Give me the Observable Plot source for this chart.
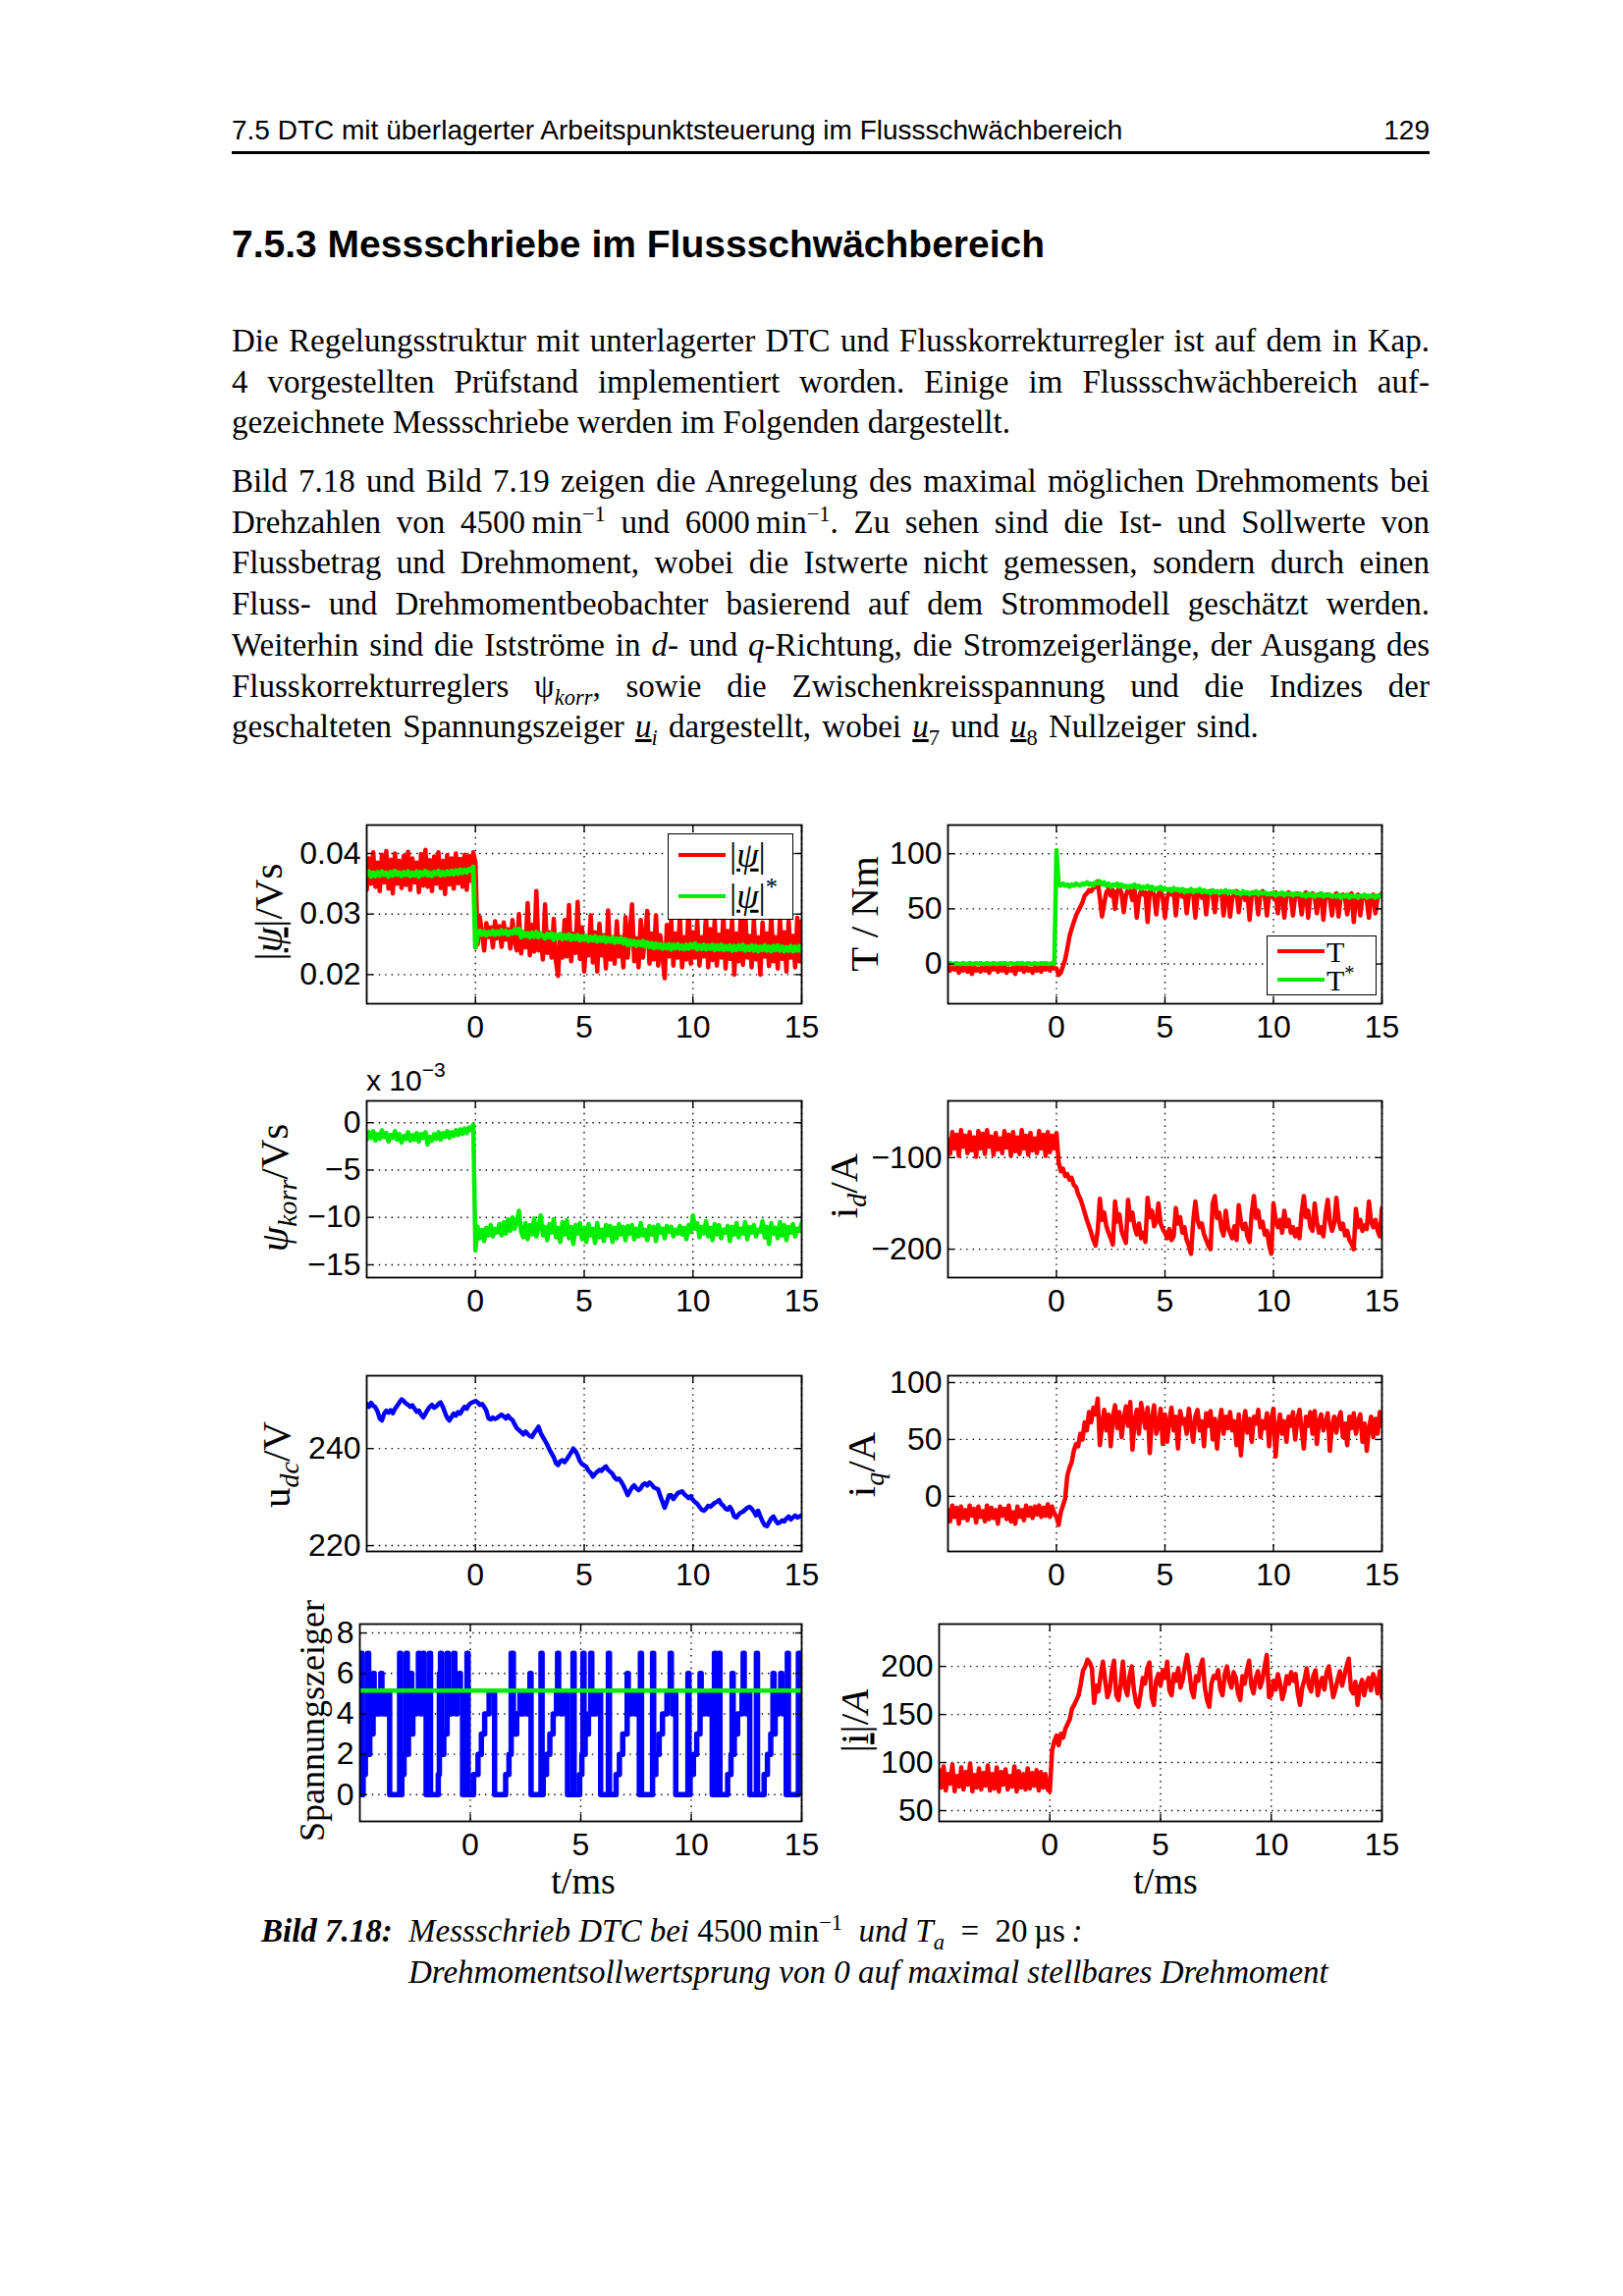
<!DOCTYPE html>
<html><head><meta charset="utf-8">
<script src="https://cdn.jsdelivr.net/npm/d3@7"></script>
<script src="https://cdn.jsdelivr.net/npm/@observablehq/plot@0.6"></script>
<style>
body{margin:0;background:#fff;}
#page{position:relative;width:1653px;height:2339px;background:#fff;overflow:hidden;font-family:"Liberation Serif","Times New Roman",serif;color:#000;}
.abs{position:absolute;white-space:nowrap;line-height:1;}
.ln{position:absolute;left:236px;width:1220px;font-size:33px;line-height:42px;height:42px;overflow:visible;}
.j{text-align:justify;text-align-last:justify;word-spacing:-2px;}
.nw{white-space:nowrap;}
sup,sub{line-height:0;font-size:0.68em;}
.ylab{position:absolute;font-family:"Liberation Serif","Times New Roman",serif;font-size:41px;white-space:nowrap;line-height:1;transform:translate(-50%,-50%) rotate(-90deg);}
.xlab{position:absolute;font-family:"Liberation Serif","Times New Roman",serif;font-size:38px;white-space:nowrap;line-height:1;transform:translate(-50%,-50%);}
.leg{position:absolute;border:1.5px solid #000;background:#fff;box-sizing:border-box;}
.legline{position:absolute;height:4px;}
.legtxt{position:absolute;font-family:"Liberation Serif","Times New Roman",serif;font-size:36px;line-height:0.9;white-space:nowrap;transform:translateY(-50%);}
</style></head><body><div id="page">

<div class="abs" style="left:236px;top:119px;font-family:'Liberation Sans',Arial,sans-serif;font-size:28px;">7.5 DTC mit überlagerter Arbeitspunktsteuerung im Flussschwächbereich</div>
<div class="abs" style="left:1456px;top:119px;transform:translateX(-100%);font-family:'Liberation Sans',Arial,sans-serif;font-size:28px;">129</div>
<div style="position:absolute;left:236px;top:154px;width:1220px;height:3px;background:#000;"></div>

<div class="abs" style="left:236px;top:229px;font-family:'Liberation Sans',Arial,sans-serif;font-size:39px;font-weight:bold;">7.5.3 Messschriebe im Flussschwächbereich</div>

<div class="ln j" style="top:326px;">Die Regelungsstruktur mit unterlagerter DTC und Flusskorrekturregler ist auf dem in Kap.</div>
<div class="ln j" style="top:368px;">4 vorgestellten Prüfstand implementiert worden. Einige im Flussschwächbereich auf-</div>
<div class="ln nw" style="top:409px;">gezeichnete Messschriebe werden im Folgenden dargestellt.</div>

<div class="ln j" style="top:469px;">Bild 7.18 und Bild 7.19 zeigen die Anregelung des maximal möglichen Drehmoments bei</div>
<div class="ln j" style="top:511px;">Drehzahlen von 4500&#8201;min<sup>−1</sup> und 6000&#8201;min<sup>−1</sup>. Zu sehen sind die Ist- und Sollwerte von</div>
<div class="ln j" style="top:552px;">Flussbetrag und Drehmoment, wobei die Istwerte nicht gemessen, sondern durch einen</div>
<div class="ln j" style="top:594px;">Fluss- und Drehmomentbeobachter basierend auf dem Strommodell geschätzt werden.</div>
<div class="ln j" style="top:636px;">Weiterhin sind die Istströme in <i>d</i>- und <i>q</i>-Richtung, die Stromzeigerlänge, der Ausgang des</div>
<div class="ln j" style="top:678px;">Flusskorrekturreglers ψ<sub><i>korr</i></sub>, sowie die Zwischenkreisspannung und die Indizes der</div>
<div class="ln nw" style="top:719px;word-spacing:3px;">geschalteten Spannungszeiger <u><i>u</i></u><sub><i>i</i></sub> dargestellt, wobei <u><i>u</i></u><sub>7</sub> und <u><i>u</i></u><sub>8</sub> Nullzeiger sind.</div>

<div class="abs" style="left:373px;top:1086px;font-family:'Liberation Sans',Arial,sans-serif;font-size:30px;">x 10<sup style="font-size:0.7em;position:relative;top:-0.15em;">−3</sup></div>

<div class="ylab" style="left:273px;top:929px;">|<u><i>ψ</i></u>|/Vs</div>
<div class="ylab" style="left:880px;top:931px;">T / Nm</div>
<div class="ylab" style="left:279px;top:1210px;"><i>ψ</i><sub><i>korr</i></sub>/Vs</div>
<div class="ylab" style="left:859px;top:1208px;">i<sub><i>d</i></sub>/A</div>
<div class="ylab" style="left:281px;top:1492px;">u<sub><i>dc</i></sub>/V</div>
<div class="ylab" style="left:877px;top:1492px;">i<sub><i>q</i></sub>/A</div>
<div class="ylab" style="left:318px;top:1753px;font-size:36px;">Spannungszeiger</div>
<div class="ylab" style="left:870px;top:1753px;">|<u>i</u>|/<i>A</i></div>

<div class="xlab" style="left:594px;top:1916px;">t/ms</div>
<div class="xlab" style="left:1187px;top:1916px;">t/ms</div>

<div class="abs" style="left:266px;top:1951px;font-size:33px;"><b><i>Bild 7.18:</i></b></div>
<div class="abs" style="left:416px;top:1951px;font-size:33px;"><i>Messschrieb DTC bei</i> 4500&#8201;min<sup>−1</sup>&ensp;<i>und T<sub>a</sub></i>&ensp;=&ensp;20&#8201;µs&#8201;<i>:</i></div>
<div class="abs" style="left:416px;top:1993px;font-size:33px;"><i>Drehmomentsollwertsprung von 0 auf maximal stellbares Drehmoment</i></div>

</div>
<script>
// ---------- sampling grid (oscilloscope record) ----------
const T0 = -5;      // ms, start of record
const DT = 0.1;     // ms, sample step of the analog traces
const DT_SZ = 0.05; // ms, sample step of the switching-state trace
const xTicks = [0, 5, 10, 15];

// ---------- |psi| actual (Vs) ----------
const psiAct = [
0.0340,0.0392,0.0350,0.0402,0.0345,0.0385,0.0338,0.0398,0.0352,0.0404,
0.0342,0.0390,0.0334,0.0400,0.0350,0.0388,0.0343,0.0396,0.0348,0.0403,
0.0340,0.0392,0.0352,0.0385,0.0336,0.0399,0.0347,0.0406,0.0345,0.0389,
0.0338,0.0395,0.0350,0.0402,0.0343,0.0388,0.0333,0.0397,0.0349,0.0392,
0.0342,0.0400,0.0351,0.0391,0.0345,0.0398,0.0340,0.0396,0.0355,0.0402,
0.0385,0.0250,0.0295,0.0268,0.0240,0.0285,0.0262,0.0278,0.0245,0.0288,
0.0260,0.0280,0.0246,0.0286,0.0258,0.0275,0.0243,0.0290,0.0255,0.0240,
0.0300,0.0235,0.0270,0.0245,0.0318,0.0232,0.0282,0.0238,0.0338,0.0240,
0.0262,0.0225,0.0316,0.0236,0.0270,0.0228,0.0292,0.0222,0.0198,0.0265,
0.0228,0.0290,0.0230,0.0315,0.0222,0.0268,0.0236,0.0320,0.0226,0.0278,
0.0205,0.0262,0.0232,0.0298,0.0220,0.0270,0.0205,0.0284,0.0232,0.0265,
0.0210,0.0306,0.0225,0.0262,0.0218,0.0288,0.0230,0.0262,0.0212,0.0295,
0.0228,0.0272,0.0316,0.0222,0.0260,0.0212,0.0290,0.0228,0.0265,0.0305,
0.0218,0.0268,0.0225,0.0298,0.0215,0.0265,0.0230,0.0194,0.0282,0.0230,
0.0290,0.0215,0.0268,0.0228,0.0296,0.0212,0.0262,0.0225,0.0312,0.0218,
0.0270,0.0228,0.0288,0.0215,0.0262,0.0230,0.0298,0.0212,0.0275,0.0224,
0.0290,0.0215,0.0266,0.0228,0.0298,0.0210,0.0272,0.0226,0.0290,0.0200,
0.0268,0.0222,0.0295,0.0216,0.0310,0.0228,0.0264,0.0212,0.0290,0.0225,
0.0262,0.0200,0.0286,0.0230,0.0268,0.0214,0.0300,0.0222,0.0262,0.0210,
0.0292,0.0226,0.0270,0.0205,0.0288,0.0228,0.0264,0.0212,0.0294,0.0222,
0.0288];
// ---------- |psi| reference (Vs) ----------
const psiRef = [
0.0365,0.0370,0.0362,0.0368,0.0363,0.0369,0.0364,0.0370,0.0365,0.0368,
0.0362,0.0369,0.0364,0.0371,0.0365,0.0368,0.0363,0.0369,0.0365,0.0370,
0.0363,0.0368,0.0364,0.0370,0.0362,0.0369,0.0365,0.0371,0.0364,0.0368,
0.0363,0.0369,0.0366,0.0371,0.0364,0.0369,0.0365,0.0370,0.0366,0.0371,
0.0366,0.0372,0.0367,0.0373,0.0368,0.0373,0.0369,0.0374,0.0372,0.0378,
0.0245,0.0268,0.0272,0.0266,0.0271,0.0265,0.0270,0.0267,0.0272,0.0266,
0.0271,0.0267,0.0273,0.0268,0.0272,0.0266,0.0271,0.0268,0.0274,0.0269,
0.0275,0.0262,0.0270,0.0264,0.0268,0.0262,0.0269,0.0263,0.0270,0.0262,
0.0268,0.0264,0.0260,0.0267,0.0262,0.0268,0.0258,0.0266,0.0261,0.0267,
0.0259,0.0265,0.0260,0.0266,0.0258,0.0264,0.0259,0.0265,0.0257,0.0263,
0.0258,0.0264,0.0256,0.0262,0.0257,0.0263,0.0255,0.0261,0.0256,0.0262,
0.0254,0.0260,0.0255,0.0261,0.0253,0.0259,0.0254,0.0260,0.0252,0.0258,
0.0249,0.0256,0.0250,0.0255,0.0248,0.0254,0.0249,0.0255,0.0247,0.0253,
0.0246,0.0252,0.0244,0.0251,0.0245,0.0250,0.0243,0.0249,0.0244,0.0250,
0.0242,0.0249,0.0244,0.0250,0.0243,0.0248,0.0242,0.0249,0.0243,0.0250,
0.0245,0.0251,0.0242,0.0248,0.0243,0.0249,0.0242,0.0248,0.0243,0.0249,
0.0241,0.0248,0.0242,0.0249,0.0241,0.0247,0.0242,0.0248,0.0240,0.0247,
0.0241,0.0248,0.0242,0.0249,0.0240,0.0246,0.0241,0.0248,0.0240,0.0247,
0.0239,0.0246,0.0241,0.0248,0.0240,0.0246,0.0239,0.0247,0.0241,0.0248,
0.0240,0.0246,0.0239,0.0245,0.0240,0.0247,0.0239,0.0246,0.0240,0.0247,
0.0238];
// ---------- torque actual T (Nm) ----------
const torqueAct = [
-2,-6,-1,-5,-3,-8,-2,-6,-1,-7,
-3,-9,-2,-6,-4,-7,-1,-6,-3,-8,
-2,-5,-1,-7,-3,-6,-2,-8,-4,-6,
-3,-9,-1,-5,-3,-7,-2,-6,-4,-8,
-2,-6,-3,-7,-1,-5,-3,-6,-2,-4,
-4,-10,-8,-2,4,14,25,32,38,44,
48,52,56,62,64,67,66,69,70,75,
60,43,55,65,68,62,67,50,66,69,
64,47,62,68,66,58,68,42,60,67,
63,65,38,66,68,62,45,64,67,60,
42,60,66,63,67,44,65,66,61,67,
46,62,66,64,42,63,66,60,65,45,
64,66,62,47,65,63,66,44,62,65,
43,60,64,66,47,63,65,58,64,40,
62,65,63,45,64,66,61,44,63,64,
60,65,46,63,64,42,62,65,61,44,
62,64,60,45,63,65,42,62,64,61,
46,63,64,40,62,63,59,44,62,64,
43,61,63,60,45,62,64,38,60,63,
44,61,62,58,42,61,63,46,60,62,
64];
// ---------- torque reference T* (Nm) ----------
const torqueRef = [
0,1,0,0,1,0,0,1,0,0,
1,0,0,1,0,1,0,0,1,0,
0,1,0,0,1,0,1,0,0,1,
0,0,1,0,1,0,0,1,0,0,
1,0,0,1,0,1,0,0,1,0,
103,72,71,73,71,72,70,72,71,73,
72,71,73,72,74,72,73,71,74,73,
75,72,74,71,73,70,72,71,73,70,
72,70,71,69,71,70,72,69,71,68,
70,69,71,68,70,67,69,68,70,67,
69,67,68,66,69,67,68,66,68,65,
67,66,68,65,67,66,68,65,67,65,
66,64,67,65,66,64,66,65,67,64,
66,65,66,64,65,63,66,64,65,63,
65,64,66,63,65,64,65,63,64,63,
65,62,64,63,65,62,64,63,64,62,
64,63,64,62,63,61,64,62,63,61,
63,62,64,61,63,62,63,61,62,61,
63,60,62,61,63,60,62,61,62,60,
62,61,63,60,62,61,62,60,62,61,
63];
// ---------- psi_korr (x 10^-3 Vs) ----------
const psiKorr = [
-1.8,-1.0,-1.6,-0.9,-1.9,-1.2,-1.7,-0.8,-1.5,-1.1,
-2.0,-1.3,-1.6,-0.9,-1.8,-1.2,-2.1,-1.4,-1.7,-1.0,
-1.9,-1.3,-1.8,-1.1,-2.0,-1.2,-1.6,-1.0,-2.3,-1.5,
-1.9,-1.2,-1.7,-1.0,-1.8,-1.1,-1.5,-0.9,-1.6,-1.0,
-1.4,-0.8,-1.3,-0.7,-1.2,-0.6,-1.1,-0.5,-0.8,-0.2,
-13.5,-11.0,-12.2,-11.3,-12.5,-11.1,-11.9,-10.8,-12.0,-11.2,
-11.6,-10.7,-11.9,-10.5,-11.7,-10.2,-11.4,-10.0,-11.2,-10.4,
-9.3,-11.5,-12.1,-10.6,-12.3,-10.8,-11.8,-10.1,-12.0,-11.0,
-9.8,-11.9,-11.0,-12.4,-10.7,-11.6,-10.2,-12.1,-11.1,-12.6,
-10.5,-11.8,-10.3,-12.2,-11.0,-12.8,-10.8,-11.7,-10.6,-12.3,
-11.1,-12.6,-10.7,-11.9,-11.2,-12.7,-10.6,-12.1,-11.3,-12.5,
-10.8,-11.9,-10.9,-12.6,-11.1,-12.2,-10.7,-11.8,-11.0,-12.4,
-10.9,-11.7,-10.8,-12.3,-11.2,-12.0,-10.6,-11.9,-11.3,-12.4,
-10.9,-11.8,-11.0,-12.5,-10.8,-11.6,-11.2,-12.2,-10.9,-11.5,
-11.0,-12.0,-11.3,-11.7,-10.9,-11.8,-11.1,-12.3,-10.8,-11.5,
-9.8,-11.2,-10.6,-12.1,-11.0,-11.7,-10.4,-12.0,-11.1,-12.4,
-10.7,-11.8,-10.8,-12.2,-11.3,-11.6,-10.9,-12.5,-11.0,-11.8,
-10.6,-12.1,-11.2,-11.7,-10.5,-12.3,-11.0,-11.6,-10.8,-12.0,
-11.3,-11.5,-10.4,-12.1,-11.0,-12.8,-10.6,-11.7,-11.1,-12.2,
-10.5,-11.9,-10.8,-12.4,-11.0,-11.6,-10.7,-12.0,-11.2,-11.4,
-10.6];
// ---------- i_d (A) ----------
const iD = [
-80,-96,-72,-90,-75,-98,-70,-88,-76,-95,
-72,-92,-78,-99,-71,-90,-74,-96,-70,-88,
-77,-97,-73,-91,-79,-95,-71,-89,-75,-98,
-72,-93,-78,-96,-70,-90,-76,-97,-73,-92,
-79,-95,-71,-90,-75,-98,-72,-94,-76,-90,
-73,-105,-115,-112,-120,-118,-124,-122,-130,-132,
-140,-145,-152,-160,-168,-175,-182,-190,-196,-180,
-145,-168,-160,-175,-182,-188,-195,-148,-170,-162,
-180,-187,-193,-146,-168,-160,-176,-184,-172,-188,
-182,-192,-144,-165,-158,-175,-170,-150,-172,-178,
-182,-188,-178,-190,-186,-155,-172,-165,-182,-176,
-190,-196,-205,-170,-148,-168,-176,-172,-184,-190,
-196,-200,-150,-142,-166,-160,-178,-185,-158,-176,
-182,-188,-175,-190,-152,-170,-178,-172,-186,-192,
-160,-142,-166,-158,-176,-170,-184,-180,-195,-205,
-150,-168,-176,-168,-182,-158,-175,-168,-182,-176,
-186,-178,-188,-160,-142,-165,-158,-176,-180,-150,
-170,-182,-176,-186,-162,-146,-170,-180,-172,-144,
-168,-178,-172,-185,-180,-190,-194,-200,-156,-176,
-168,-180,-174,-178,-148,-170,-176,-168,-180,-186,
-155];
// ---------- u_dc (V) ----------
const uDC = [
249.2,248.6,249.4,248.8,248.5,247.6,246.2,245.8,247.2,247.8,
247.4,247.9,247.3,248.2,248.8,249.5,250.1,249.8,249.3,249.0,
248.6,248.9,248.2,247.6,247.8,247.0,246.4,247.2,248.0,248.6,
249.0,248.4,248.7,249.2,249.5,248.6,247.4,246.3,245.8,246.5,
247.2,246.8,247.5,247.2,248.0,248.6,248.2,249.0,249.4,249.6,
249.8,249.5,249.0,249.2,248.6,247.8,246.2,246.0,246.4,246.1,
246.3,246.7,247.0,246.6,246.2,246.8,246.2,245.9,245.0,244.2,
243.8,243.4,242.9,243.5,243.0,242.6,242.4,243.2,243.8,244.5,
243.2,242.4,241.6,240.8,239.8,239.0,238.2,237.0,236.6,237.4,
237.6,237.2,237.8,238.5,239.2,240.0,239.5,238.6,237.4,236.8,
236.5,236.2,235.4,235.0,234.2,234.8,235.2,235.6,235.4,236.0,
236.3,235.6,235.2,234.8,234.0,233.6,233.8,233.2,232.4,231.4,
230.4,231.2,232.0,232.4,231.8,231.4,231.8,232.6,232.8,232.4,
233.0,232.6,232.0,231.8,231.6,230.2,229.0,227.8,229.0,230.4,
230.4,229.6,230.2,230.8,231.0,231.2,230.6,230.2,229.8,230.2,
229.4,229.0,228.6,228.0,227.4,227.2,227.6,228.2,228.0,228.4,
228.8,229.0,229.4,228.6,228.2,227.6,227.4,228.0,227.2,226.0,
225.8,226.4,226.8,227.0,227.4,227.8,228.0,227.6,227.0,226.2,
227.2,226.0,225.0,224.2,224.0,224.8,225.6,226.0,225.2,224.6,
224.8,225.2,225.0,225.6,226.0,225.4,225.8,226.2,225.8,226.0,
226.2];
// ---------- i_q (A) ----------
const iQ = [
-12,-22,-8,-18,-10,-24,-9,-19,-12,-21,
-8,-17,-11,-23,-9,-18,-13,-22,-8,-20,
-10,-19,-12,-24,-9,-17,-11,-20,-8,-22,
-14,-24,-9,-18,-12,-21,-8,-17,-10,-19,
-9,-16,-8,-18,-10,-17,-7,-18,-9,-15,
-18,-25,-14,-8,-2,18,25,30,40,46,
44,55,50,65,58,74,65,78,72,86,
45,62,76,58,72,44,70,80,60,74,
52,68,79,62,83,41,66,76,55,82,
70,60,78,38,68,80,55,62,77,46,
72,48,66,78,58,70,42,75,64,68,
55,77,62,48,70,76,58,66,44,73,
62,75,50,68,42,64,76,55,70,60,
74,58,66,45,72,36,62,75,56,68,
48,70,64,76,52,66,60,73,44,68,
77,35,60,72,55,66,48,70,62,74,
50,67,76,58,42,70,62,74,55,75,
46,66,72,58,64,73,40,62,70,56,
68,74,52,64,45,70,60,73,55,66,
72,48,64,40,60,70,52,68,55,74,
62];
// ---------- switched voltage vector index (0..7), sampled every 0.05 ms ----------
const szIdx = [
0,7,0,
1,1,2,2,7,2,3,3,3,6,4,4,4,5,4,5,6,5,4,5,5,4,5,5,
0,0,0,0,0,0,0,0,0,7,0,
1,1,2,2,7,2,3,3,6,3,4,4,4,5,5,7,5,4,5,7,5,5,
0,0,0,7,0,0,0,0,0,0,0,
1,6,7,2,2,3,3,3,7,4,4,4,5,5,7,5,4,5,5,6,5,5,
0,0,0,0,7,0,0,0,0,0,
1,1,1,1,2,2,2,3,3,3,4,4,4,4,5,5,5,5,5,
0,0,0,0,0,0,0,0,0,0,
1,1,1,2,2,7,7,3,3,3,4,4,4,5,5,4,5,5,5,4,5,5,6,
0,0,0,0,0,0,0,0,0,7,0,
1,1,1,2,2,2,3,3,3,4,4,4,5,7,5,5,4,5,5,5,4,5,
0,0,0,0,0,7,0,0,0,0,0,
1,1,2,7,2,3,3,3,4,4,7,4,5,5,4,5,5,5,5,
0,0,0,0,0,0,0,7,0,0,0,0,0,0,
1,1,1,2,2,2,3,3,3,3,6,4,4,4,5,5,5,4,5,5,5,
0,7,0,0,0,0,0,0,0,0,0,0,
7,1,1,2,2,2,3,3,3,4,4,4,4,5,5,5,7,5,4,5,5,
0,0,0,0,0,0,0,0,0,0,0,6,0,
1,1,1,2,2,2,3,3,3,6,4,4,4,5,5,5,4,5,5,5,
0,0,7,0,0,0,7,0,0,0,0,0,0,0,
1,1,1,2,6,2,3,3,3,4,4,4,4,5,7,5,5,4,5,5,
0,0,0,0,0,0,7,0,0,0,0,0,0,
1,1,1,2,2,2,3,3,6,3,4,4,4,5,5,6,5,4,5,5,
0,7,0,0,0,0,0,0,0,0,0,7,
1,1,7];
const szSector = [5.15]; // green reference trace in the switching-state plot
// ---------- |i| (A) ----------
const iAbs = [
92,74,96,71,88,78,98,70,86,75,
95,72,90,77,99,70,87,74,94,72,
89,76,97,71,88,73,95,70,90,77,
93,72,86,75,96,70,91,74,88,72,
94,73,89,76,92,71,90,74,88,72,
70,112,122,128,118,130,126,135,140,145,
156,160,165,170,182,196,200,207,204,198,
162,180,174,192,205,185,168,175,195,206,
170,165,182,205,178,170,190,200,175,162,
158,172,188,182,198,204,168,160,185,192,
180,196,188,205,175,170,192,185,198,178,
186,200,212,195,175,168,190,185,200,207,
178,165,158,182,190,188,196,176,170,192,
200,185,178,194,188,172,165,190,182,196,
206,180,172,188,195,178,186,200,212,168,
170,185,176,192,182,166,175,190,182,194,
185,192,172,160,178,186,198,180,174,190,
196,170,182,188,176,194,200,184,168,176,
186,195,180,190,200,208,176,172,184,160,
178,186,170,182,188,175,192,185,172,195,
168];

// ---------- legend labels ----------
const legend1 = [{html: '|<u><i>ψ</i></u>|', color: "#ff0000"}, {html: '|<u><i>ψ</i></u>|<sup>*</sup>', color: "#00ee00"}];
const legend2 = [{html: 'T', color: "#ff0000"}, {html: 'T<sup>*</sup>', color: "#00ee00"}];

const RED = "#ff0000", GREEN = "#00ee00", BLUE = "#0000ff";
const series = (vals, step) => vals.map((v, i) => ({t: T0 + i * step, v}));

const page = document.getElementById("page");

function panel(o) {
  const mL = 120, mR = 40, mT = 14, mB = 60;
  const gridStyle = {stroke: "#000", strokeOpacity: 1, strokeWidth: 1.4, strokeDasharray: "1.4,5"};
  const chart = Plot.plot({
    width: o.w + mL + mR, height: o.h + mT + mB,
    marginLeft: mL, marginRight: mR, marginTop: mT, marginBottom: mB,
    x: {domain: [-5, 15]},
    y: {domain: o.yDomain},
    style: {fontFamily: '"Liberation Sans", Arial, sans-serif', fontSize: "32px", color: "#000", background: "transparent", overflow: "visible"},
    marks: [
      Plot.gridX(xTicks, gridStyle),
      Plot.gridY(o.yTicks, gridStyle),
      ...o.marks,
      Plot.axisX(xTicks, {anchor: "bottom", tickSize: -7, tickPadding: 19, label: null, fontSize: 32, strokeWidth: 1.4}),
      Plot.axisX(xTicks, {anchor: "top", tickSize: -7, text: null, label: null, strokeWidth: 1.4}),
      Plot.axisY(o.yTicks, {anchor: "left", tickSize: -7, tickPadding: 13, label: null, fontSize: 32, tickFormat: o.fmt, strokeWidth: 1.4}),
      Plot.axisY(o.yTicks, {anchor: "right", tickSize: -7, text: null, label: null, strokeWidth: 1.4}),
      Plot.frame({stroke: "#000", strokeWidth: 1.8})
    ]
  });
  chart.style.position = "absolute";
  chart.style.left = (o.l - mL) + "px";
  chart.style.top = (o.t - mT) + "px";
  chart.style.maxWidth = "none";
  page.appendChild(chart);
}

const ln = (vals, step, color, w, extra = {}) =>
  Plot.line(series(vals, step), {x: "t", y: "v", stroke: color, strokeWidth: w, clip: true, ...extra});

panel({l: 373, t: 840, w: 443, h: 182, yDomain: [0.0152, 0.0447], yTicks: [0.02, 0.03, 0.04], fmt: d3.format(".2f"),
  marks: [ln(psiAct, DT, RED, 4.5), ln(psiRef, DT, GREEN, 5)]});
panel({l: 965, t: 840, w: 442, h: 182, yDomain: [-36, 126], yTicks: [0, 50, 100],
  marks: [ln(torqueAct, DT, RED, 4.5), ln(torqueRef, DT, GREEN, 4.5)]});
panel({l: 373, t: 1121, w: 443, h: 180, yDomain: [-16.35, 2.3], yTicks: [-15, -10, -5, 0],
  marks: [ln(psiKorr, DT, GREEN, 4.5)]});
panel({l: 965, t: 1121, w: 442, h: 180, yDomain: [-231, -38], yTicks: [-200, -100],
  marks: [ln(iD, DT, RED, 4.5)]});
panel({l: 373, t: 1401, w: 443, h: 179, yDomain: [218.8, 255], yTicks: [220, 240],
  marks: [ln(uDC, DT, BLUE, 4.5)]});
panel({l: 965, t: 1401, w: 442, h: 179, yDomain: [-48.4, 106], yTicks: [0, 50, 100],
  marks: [ln(iQ, DT, RED, 4.5)]});
panel({l: 366, t: 1654, w: 450, h: 201, yDomain: [-1.32, 8.44], yTicks: [0, 2, 4, 6, 8],
  marks: [ln(szIdx, DT_SZ, BLUE, 5.5, {curve: "step-after"}), Plot.ruleY(szSector, {stroke: GREEN, strokeWidth: 4.5})]});
panel({l: 956, t: 1654, w: 451, h: 201, yDomain: [38.8, 244], yTicks: [50, 100, 150, 200],
  marks: [ln(iAbs, DT, RED, 4.5)]});

// ---------- legends (HTML, above the plots) ----------
function legend(box, items, rowYs, txtLeft, fs) {
  const d = document.createElement("div");
  d.className = "leg";
  Object.assign(d.style, {left: box[0] + "px", top: box[1] + "px", width: box[2] + "px", height: box[3] + "px"});
  items.forEach((it, k) => {
    const l = document.createElement("div");
    l.className = "legline";
    Object.assign(l.style, {left: "10px", width: "48px", top: (rowYs[k] - 2) + "px", background: it.color});
    d.appendChild(l);
    const s = document.createElement("div");
    s.className = "legtxt";
    s.innerHTML = it.html;
    Object.assign(s.style, {left: txtLeft + "px", top: rowYs[k] + "px", fontSize: fs + "px"});
    d.appendChild(s);
  });
  page.appendChild(d);
}
legend([680, 849, 128, 88], legend1, [21, 63], 62, 36);
legend([1290, 953, 112, 61], legend2, [15, 44], 60, 30);
</script>
</body></html>
